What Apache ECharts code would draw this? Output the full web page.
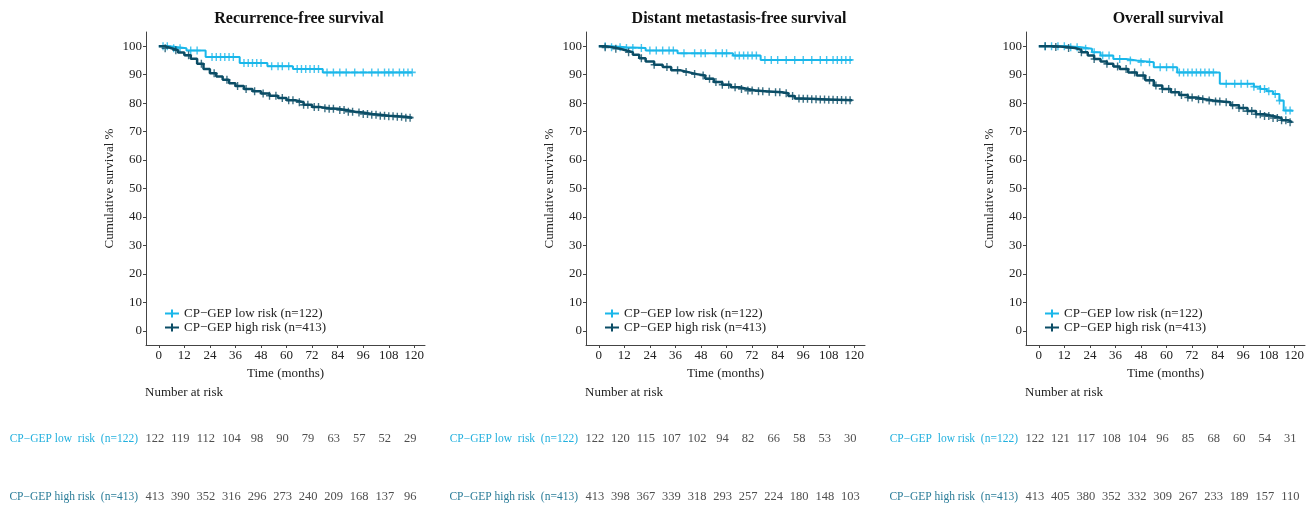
<!DOCTYPE html>
<html><head><meta charset="utf-8">
<script src="https://cdn.jsdelivr.net/npm/echarts@6/dist/echarts.min.js"></script>
<style>html,body{margin:0;padding:0;background:#fff}#c{width:1309px;height:506px}</style>
</head><body><div id="c"></div>
<script>
// ---------- DATA ----------
const panelTitles = ['Recurrence-free survival', 'Distant metastasis-free survival', 'Overall survival'];
const lowName = 'CP\u2212GEP low risk (n=122)';
const highName = 'CP\u2212GEP high risk (n=413)';
const riskRowLow = ['CP\u2212GEP low  risk  (n=122)', 'CP\u2212GEP low  risk  (n=122)', 'CP\u2212GEP  low risk  (n=122)'];
const riskRowHigh = ['CP\u2212GEP high risk  (n=413)', 'CP\u2212GEP high risk  (n=413)', 'CP\u2212GEP high risk  (n=413)'];
const timeTicks = [0, 12, 24, 36, 48, 60, 72, 84, 96, 108, 120];
const survTicks = [0, 10, 20, 30, 40, 50, 60, 70, 80, 90, 100];

// Recurrence-free survival
const rfsLowT = [0, 5, 13, 22, 38, 51, 63, 77, 119];
const rfsLowS = [100, 99.3, 98.5, 96.2, 94.1, 93.0, 92.0, 90.8, 90.8];
const rfsHighT = [0, 3, 6, 9, 12, 15, 18, 21, 24, 27, 30, 33, 36, 40, 44, 48, 52, 56, 60, 64, 68, 72, 76, 80, 84, 88, 92, 96, 100, 104, 108, 112, 116, 119];
const rfsHighS = [100, 99.3, 98.6, 97.8, 96.8, 95.6, 93.8, 92.0, 90.5, 89.4, 88.2, 87.0, 86.0, 85.0, 84.2, 83.4, 82.6, 81.8, 81.0, 80.3, 79.4, 78.6, 78.2, 78.0, 77.6, 77.0, 76.7, 76.2, 75.9, 75.6, 75.4, 75.2, 74.9, 74.8];
const rfsLowCens = [2, 4, 7, 10, 15, 18, 25, 27, 29, 31, 33, 35, 40, 42, 44, 46, 48, 53, 56, 58, 61, 65, 67, 69, 71, 73, 75, 79, 82, 85, 88, 92, 96, 100, 103, 106, 108, 110, 113, 115, 117, 119];
const rfsHighCens = [3, 8, 14, 20, 26, 32, 37, 41, 45, 49, 52, 55, 58, 61, 63, 66, 68, 70, 73, 75, 78, 80, 82, 85, 87, 89, 91, 94, 96, 98, 100, 102, 104, 106, 108, 110, 112, 114, 116, 118];

// Distant metastasis-free survival
const dmfsLowT = [0, 6, 13, 22, 37, 63, 76, 119];
const dmfsLowS = [100, 99.6, 99.4, 98.5, 97.5, 96.7, 95.2, 95.2];
const dmfsHighT = [0, 3, 7, 10, 13, 16, 19, 22, 26, 30, 34, 38, 42, 46, 50, 54, 58, 62, 66, 70, 74, 78, 82, 86, 89, 92, 96, 100, 104, 108, 112, 116, 119];
const dmfsHighS = [100, 99.6, 99.1, 98.5, 97.9, 97.0, 95.8, 94.6, 93.5, 92.7, 91.6, 90.9, 90.2, 89.7, 88.6, 87.4, 86.5, 85.6, 85.0, 84.4, 84.2, 84.0, 83.8, 83.5, 82.5, 81.6, 81.5, 81.4, 81.3, 81.2, 81.1, 81.0, 80.9];
const dmfsLowCens = [3, 6, 10, 13, 16, 20, 24, 27, 30, 33, 35, 40, 45, 48, 50, 55, 58, 60, 64, 66, 68, 70, 72, 74, 78, 81, 84, 88, 92, 96, 100, 104, 107, 110, 112, 114, 116, 118];
const dmfsHighCens = [3, 8, 14, 20, 26, 32, 37, 41, 45, 49, 52, 55, 58, 61, 64, 67, 70, 72, 75, 77, 80, 83, 85, 88, 91, 94, 96, 98, 100, 102, 104, 106, 108, 110, 112, 114, 116, 118];

// Overall survival
const osLowT = [0, 13, 20, 25, 29, 35, 41, 46, 54, 65, 85, 101, 104, 107, 110, 113, 115, 119];
const osLowS = [100, 99.6, 99.1, 97.9, 96.7, 95.5, 95.0, 94.4, 92.6, 90.8, 86.8, 85.8, 85.0, 84.2, 83.2, 80.9, 77.4, 77.0];
const osHighT = [0, 8, 13, 17, 20, 23, 26, 29, 32, 35, 38, 42, 46, 50, 54, 58, 62, 66, 70, 74, 78, 82, 86, 90, 94, 98, 102, 106, 110, 114, 117, 119];
const osHighS = [100, 99.7, 99.4, 98.7, 97.9, 96.7, 95.5, 94.6, 93.8, 92.9, 92.0, 90.8, 89.7, 88.0, 86.2, 85.0, 83.8, 82.9, 82.0, 81.4, 80.9, 80.6, 80.3, 79.3, 78.3, 77.2, 76.1, 75.5, 74.8, 74.0, 73.3, 73.2];
const osLowCens = [3, 6, 9, 12, 15, 18, 22, 26, 30, 33, 38, 43, 48, 52, 57, 60, 63, 66, 68, 70, 72, 74, 76, 78, 80, 82, 88, 92, 95, 98, 101, 104, 106, 108, 111, 113, 116, 118];
const osHighCens = [3, 8, 14, 20, 26, 32, 37, 41, 45, 49, 52, 55, 58, 61, 64, 67, 70, 72, 75, 77, 80, 83, 85, 88, 91, 94, 96, 98, 100, 102, 104, 106, 108, 110, 112, 114, 116, 118];

// Number at risk
const rfsRiskLow = [122, 119, 112, 104, 98, 90, 79, 63, 57, 52, 29];
const rfsRiskHigh = [413, 390, 352, 316, 296, 273, 240, 209, 168, 137, 96];
const dmfsRiskLow = [122, 120, 115, 107, 102, 94, 82, 66, 58, 53, 30];
const dmfsRiskHigh = [413, 398, 367, 339, 318, 293, 257, 224, 180, 148, 103];
const osRiskLow = [122, 121, 117, 108, 104, 96, 85, 68, 60, 54, 31];
const osRiskHigh = [413, 405, 380, 352, 332, 309, 267, 233, 189, 157, 110];

// ---------- BUILD ----------
const panels = [
  { lowT: rfsLowT, lowS: rfsLowS, highT: rfsHighT, highS: rfsHighS, lowC: rfsLowCens, highC: rfsHighCens, rl: rfsRiskLow, rh: rfsRiskHigh },
  { lowT: dmfsLowT, lowS: dmfsLowS, highT: dmfsHighT, highS: dmfsHighS, lowC: dmfsLowCens, highC: dmfsHighCens, rl: dmfsRiskLow, rh: dmfsRiskHigh },
  { lowT: osLowT, lowS: osLowS, highT: osHighT, highS: osHighS, lowC: osLowCens, highC: osHighCens, rl: osRiskLow, rh: osRiskHigh }
];
const FONT = "'Liberation Serif', 'DejaVu Serif', serif";
const CYAN = '#1ab7ea', DARK = '#0b4d66';
const ROW_CYAN = '#22b0de', ROW_DARK = '#2a7c98';
const AXIS = '#444';
const LEFT = [146, 586, 1026], WIDTH = 279, TOP = 32, HEIGHT = 313;
const TITLE_X = [299, 739, 1168];
const PLUS = 'path://M0,4H10V6H0Z M4,0H6V10H4Z';
const LEG_ICON = 'path://M0,4H14V6H0Z M6,1H8V9H6Z';

function stepAt(T, S, t) { let v = S[0]; for (let k = 0; k < T.length; k++) if (T[k] <= t) v = S[k]; return v; }

const grid = [], xAxis = [], yAxis = [], series = [], legend = [], title = [];
panels.forEach((p, i) => {
  const g = grid.length;
  grid.push({ left: LEFT[i], top: TOP, width: WIDTH, height: HEIGHT });
  grid.push({ left: LEFT[i], top: 439, width: WIDTH, height: 58 });
  xAxis.push({
    gridIndex: g, type: 'value', min: -6, max: 125,
    axisLine: { show: true, onZero: false, lineStyle: { color: AXIS, width: 1 } },
    axisTick: { show: true, length: 3, customValues: timeTicks, lineStyle: { color: AXIS } },
    axisLabel: { customValues: timeTicks, color: '#222', fontFamily: FONT, fontSize: 13, margin: 4 },
    splitLine: { show: false },
    name: 'Time (months)', nameLocation: 'middle', nameGap: 22,
    nameTextStyle: { color: '#222', fontFamily: FONT, fontSize: 13 }
  });
  xAxis.push({ gridIndex: g + 1, type: 'value', min: -6, max: 125, show: false });
  yAxis.push({
    gridIndex: g, type: 'value', min: -5, max: 105,
    axisLine: { show: true, onZero: false, lineStyle: { color: AXIS, width: 1 } },
    axisTick: { show: true, length: 3, customValues: survTicks, lineStyle: { color: AXIS } },
    axisLabel: { customValues: survTicks, color: '#222', fontFamily: FONT, fontSize: 13, margin: 4 },
    splitLine: { show: false },
    name: 'Cumulative survival %', nameLocation: 'middle', nameGap: 30, nameRotate: 90,
    nameTextStyle: { color: '#222', fontFamily: FONT, fontSize: 13 }
  });
  yAxis.push({
    gridIndex: g + 1, type: 'value', min: 0, max: 1,
    axisLine: { show: false }, axisTick: { show: false }, splitLine: { show: false },
    axisLabel: {
      customValues: [0, 1], margin: 8, fontFamily: FONT, fontSize: 11.5,
      formatter: v => v === 1 ? '{l|' + riskRowLow[i] + '}' : '{h|' + riskRowHigh[i] + '}',
      rich: { l: { color: ROW_CYAN, fontFamily: FONT, fontSize: 11.5 }, h: { color: ROW_DARK, fontFamily: FONT, fontSize: 11.5 } }
    }
  });
  const xi = g, yi = g;
  series.push({
    name: lowName, type: 'line', step: 'end', xAxisIndex: xi, yAxisIndex: yi,
    data: p.lowT.map((t, k) => [t, p.lowS[k]]), showSymbol: false, symbol: 'none',
    lineStyle: { color: CYAN, width: 2 }, itemStyle: { color: CYAN }, z: 3
  });
  series.push({
    name: highName, type: 'line', step: 'end', xAxisIndex: xi, yAxisIndex: yi,
    data: p.highT.map((t, k) => [t, p.highS[k]]), showSymbol: false, symbol: 'none',
    lineStyle: { color: DARK, width: 2.5 }, itemStyle: { color: DARK }, z: 4
  });
  series.push({
    type: 'scatter', xAxisIndex: xi, yAxisIndex: yi, symbol: PLUS, symbolSize: [7, 8],
    data: p.lowC.map(t => [t, stepAt(p.lowT, p.lowS, t)]), itemStyle: { color: CYAN }, z: 3, silent: true
  });
  series.push({
    type: 'scatter', xAxisIndex: xi, yAxisIndex: yi, symbol: PLUS, symbolSize: [7, 8],
    data: p.highC.map(t => [t, stepAt(p.highT, p.highS, t)]), itemStyle: { color: DARK }, z: 4, silent: true
  });
  const tableLabel = { show: true, position: 'inside', offset: [-4, 0], color: '#222', fontFamily: FONT, fontSize: 12.5, formatter: q => q.value[2] };
  series.push({
    type: 'scatter', xAxisIndex: g + 1, yAxisIndex: g + 1, symbolSize: 0,
    data: timeTicks.map((t, k) => [t, 1, p.rl[k]]), label: tableLabel, silent: true
  });
  series.push({
    type: 'scatter', xAxisIndex: g + 1, yAxisIndex: g + 1, symbolSize: 0,
    data: timeTicks.map((t, k) => [t, 0, p.rh[k]]), label: tableLabel, silent: true
  });
  legend.push({
    data: [lowName, highName], orient: 'vertical', left: LEFT[i] + 14, top: 302,
    itemWidth: 14, itemHeight: 9, itemGap: 1, icon: LEG_ICON, selectedMode: false,
    textStyle: { color: '#222', fontFamily: FONT, fontSize: 13 }
  });
  title.push({
    text: panelTitles[i], left: TITLE_X[i], top: 11, textAlign: 'center', padding: 0,
    textStyle: { color: '#111', fontFamily: FONT, fontWeight: 'bold', fontSize: 16 }
  });
  title.push({
    text: 'Number at risk', left: LEFT[i] - 1, top: 386, padding: 0,
    textStyle: { color: '#222', fontFamily: FONT, fontWeight: 'normal', fontSize: 13 }
  });
});

const chart = echarts.init(document.getElementById('c'), null, { renderer: 'canvas' });
chart.setOption({ backgroundColor: '#fff', animation: false, title, legend, grid, xAxis, yAxis, series });
</script></body></html>
